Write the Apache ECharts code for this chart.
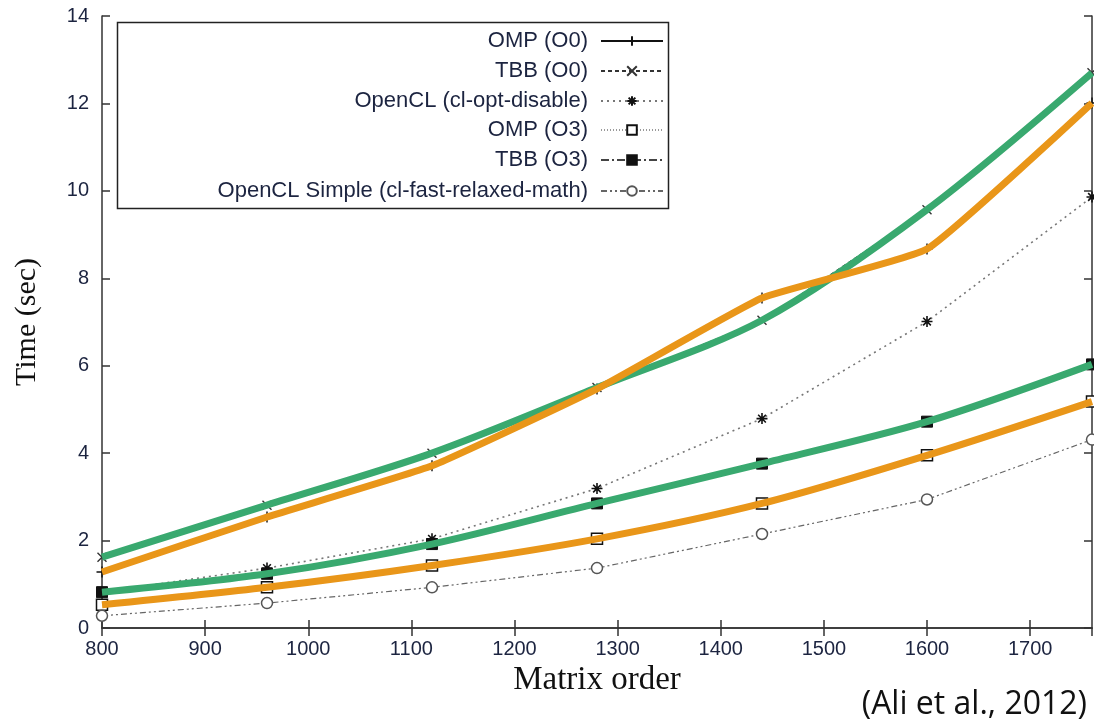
<!DOCTYPE html>
<html>
<head>
<meta charset="utf-8">
<script src="https://cdn.jsdelivr.net/npm/echarts@6/dist/echarts.min.js"></script>
<style>
html,body{margin:0;padding:0;background:#fff;}
#chart{width:1094px;height:722px;}
</style>
</head>
<body>
<div id="chart"></div>
<script>
// ---- data ----
var matrixOrder = [800, 960, 1120, 1280, 1440, 1600, 1760];
var ompO0      = [1.28, 2.54, 3.71, 5.47, 7.55, 8.67, 12.01];
var tbbO0      = [1.62, 2.81, 4.00, 5.50, 7.04, 9.57, 12.70];
var openclOpt  = [0.82, 1.37, 2.04, 3.19, 4.79, 7.01, 9.86];
var ompO3      = [0.53, 0.93, 1.43, 2.04, 2.85, 3.95, 5.18];
var tbbO3      = [0.82, 1.24, 1.92, 2.85, 3.76, 4.72, 6.03];
var openclSimple = [0.28, 0.57, 0.93, 1.37, 2.15, 2.94, 4.31];
var seriesNames = ['OMP (O0)', 'TBB (O0)', 'OpenCL (cl-opt-disable)', 'OMP (O3)', 'TBB (O3)', 'OpenCL Simple (cl-fast-relaxed-math)'];
var xTicks = [800, 900, 1000, 1100, 1200, 1300, 1400, 1500, 1600, 1700];
var yTicks = [0, 2, 4, 6, 8, 10, 12, 14];

function pairs(vals){ return matrixOrder.map(function(x,i){ return [x, vals[i]]; }); }

var SYM_PLUS = 'path://M5,0L5,10M0,5L10,5';
var SYM_CROSS = 'path://M0,0L10,10M10,0L0,10';
var SYM_STAR = 'path://M5,0L5,10M0,5L10,5M1.5,1.5L8.5,8.5M8.5,1.5L1.5,8.5';

var chart = echarts.init(document.getElementById('chart'));

var tickFont = {fontFamily: 'Liberation Sans, Arial, sans-serif', color: '#1c2440'};

function blackSeries(name, vals, sym, size, itemStyle, lineStyle){
  return {
    name: name, type: 'line', data: pairs(vals), z: 2,
    symbol: sym, symbolSize: size, showAllSymbol: true,
    itemStyle: itemStyle, lineStyle: lineStyle, silent: true,
    emphasis: {disabled: true}
  };
}
function overlay(vals, color, smooth){
  return {
    name: '_' + color + smooth, type: 'line', data: pairs(vals), z: 3,
    symbol: 'none', smooth: smooth, silent: true,
    lineStyle: {color: color, width: 7}, emphasis: {disabled: true}
  };
}

var GREEN = '#39a96f', ORANGE = '#e99619';

var rowsY = [42, 72, 102, 131, 161, 192];
var legends = seriesNames.map(function(n, i){
  return {
    data: [n], orient: 'vertical', align: 'right', right: 430, top: rowsY[i] - 12,
    padding: 0, itemWidth: 62, itemHeight: 12, selectedMode: false,
    textStyle: {fontFamily: 'Liberation Sans, Arial, sans-serif', fontSize: 22, color: '#1c2440', padding: [0, 8, 0, 0]}
  };
});

var option = {
  animation: false,
  backgroundColor: '#fff',
  grid: {left: 102, right: 2, top: 16, bottom: 94},
  legend: legends,
  xAxis: [{
    type: 'value', min: 800, max: 1760, interval: 100,
    name: 'Matrix order', nameLocation: 'middle', nameGap: 36,
    nameTextStyle: {fontFamily: 'Liberation Serif, Times New Roman, serif', fontSize: 33, color: '#111'},
    axisLine: {show: true, lineStyle: {color: '#333', width: 1.5}},
    axisTick: {show: true, inside: true, length: 8, lineStyle: {color: '#333', width: 1.5}},
    axisLabel: Object.assign({fontSize: 20, margin: 11, showMaxLabel: false,
      formatter: function(v){ return xTicks.indexOf(v) >= 0 ? String(v) : ''; }}, tickFont),
    splitLine: {show: false}
  }, {
    type: 'value', position: 'top', min: 800, max: 1760, interval: 100,
    axisLine: {show: true, lineStyle: {color: '#333', width: 1.5}},
    axisTick: {show: true, inside: true, length: 8, lineStyle: {color: '#333', width: 1.5}},
    axisLabel: {show: false}, splitLine: {show: false}
  }],
  yAxis: [{
    type: 'value', min: 0, max: 14, interval: 2,
    name: 'Time (sec)', nameLocation: 'middle', nameGap: 60,
    nameTextStyle: {fontFamily: 'Liberation Serif, Times New Roman, serif', fontSize: 30, color: '#111'},
    axisLine: {show: true, lineStyle: {color: '#333', width: 1.5}},
    axisTick: {show: true, inside: true, length: 8, lineStyle: {color: '#333', width: 1.5}},
    axisLabel: Object.assign({fontSize: 20, margin: 13,
      formatter: function(v){ return yTicks.indexOf(v) >= 0 ? String(v) : ''; }}, tickFont),
    splitLine: {show: false}
  }, {
    type: 'value', position: 'right', min: 0, max: 14, interval: 2,
    axisLine: {show: true, lineStyle: {color: '#333', width: 1.5}},
    axisTick: {show: true, inside: true, length: 8, lineStyle: {color: '#333', width: 1.5}},
    axisLabel: {show: false}, splitLine: {show: false}
  }],
  graphic: [{
    type: 'rect', shape: {x: 117.5, y: 22.5, width: 551, height: 186}, z: 1,
    style: {fill: '#fff', stroke: '#222', lineWidth: 1.5}, silent: true
  }, {
    type: 'text', x: 1087, y: 705, z: 10,
    style: {text: '(Ali et al., 2012)', fontFamily: 'Open Sans, Lato, sans-serif', fontSize: 32, fill: '#111',
      align: 'right', verticalAlign: 'middle'}
  }],
  series: [
    blackSeries(seriesNames[0], ompO0, SYM_PLUS, 11, {color: 'none', borderColor: '#111', borderWidth: 1.4}, {color: '#111', width: 1}),
    blackSeries(seriesNames[1], tbbO0, SYM_CROSS, 9, {color: 'none', borderColor: '#333', borderWidth: 1.4}, {color: '#333', width: 1, type: [4, 3]}),
    blackSeries(seriesNames[2], openclOpt, SYM_STAR, 11, {color: 'none', borderColor: '#111', borderWidth: 1.6}, {color: '#777', width: 1.6, type: [2, 4]}),
    blackSeries(seriesNames[3], ompO3, 'rect', 11, {color: '#fff', borderColor: '#111', borderWidth: 1.5}, {color: '#999', width: 1, type: [1, 2]}),
    blackSeries(seriesNames[4], tbbO3, 'rect', 11, {color: '#111', borderColor: '#111', borderWidth: 1}, {color: '#444', width: 1.2, type: [8, 3, 2, 3]}),
    blackSeries(seriesNames[5], openclSimple, 'circle', 11, {color: '#fff', borderColor: '#555', borderWidth: 1.5}, {color: '#666', width: 1.2, type: [6, 3, 2, 3, 2, 3]}),
    overlay(tbbO0, GREEN, 0.3),
    overlay(ompO0, ORANGE, 0.12),
    overlay(tbbO3, GREEN, 0.3),
    overlay(ompO3, ORANGE, 0.3)
  ]
};
chart.setOption(option);
</script>
</body>
</html>
